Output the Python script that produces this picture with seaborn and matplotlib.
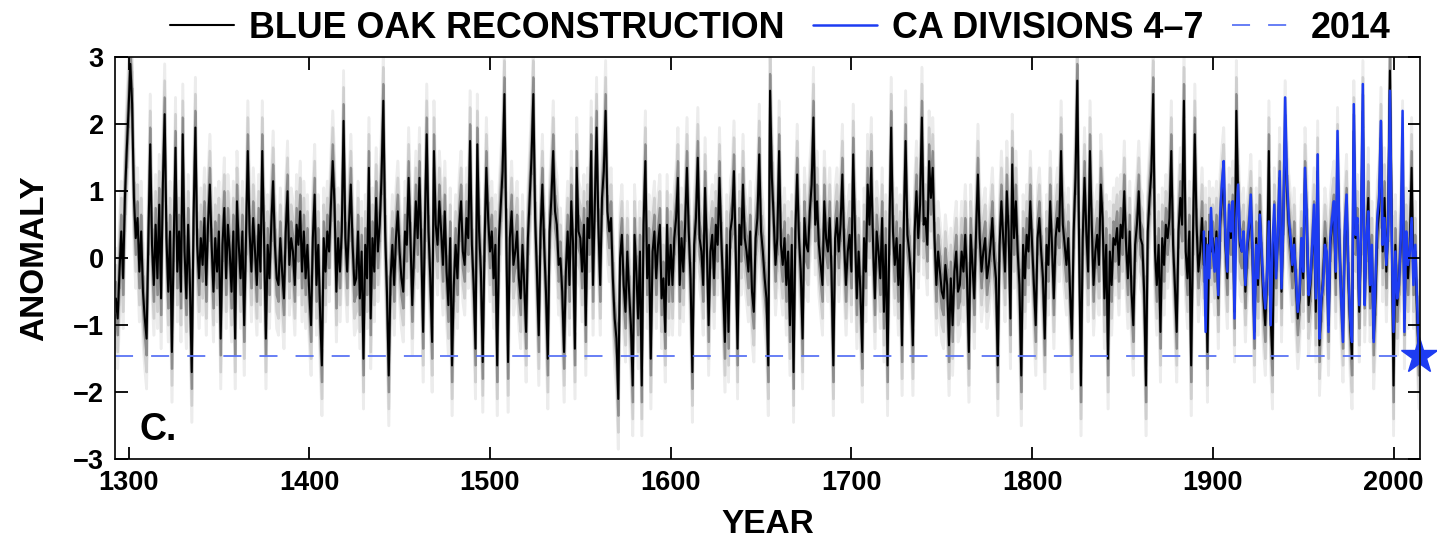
import numpy as np
import pandas as pd
import matplotlib
matplotlib.use("Agg")
import matplotlib.pyplot as plt
import seaborn as sns

# ---------------- data ----------------
oak_start_year = 1293
oak_anomaly = [
    -0.6, -0.9, -0.2, 0.4, -0.3, 0.9, 1.6,                      # 1293-1299
    2.2, 2.9, 2.3, 0.9, 0.3, 0.6, -0.2, 0.4, -0.5, -0.9,        # 1300
    -1.2, 0.3, 1.7, 0.2, -0.4, 0.5, -0.3, 0.8, -0.6, 1.1,       # 1310
    2.15, 0.3, -0.5, 0.4, -1.4, 0.2, 1.65, -0.2, 0.4, -0.5,     # 1320
    1.85, 0.1, -0.6, 0.5, -0.4, -1.7, 0.6, 1.95, 0.2, -0.3,     # 1330
    0.3, -0.1, 0.6, -0.4, 0.5, 1.1, 0.2, -0.5, 0.3, -0.2,       # 1340
    0.4, -1.2, 0.2, 0.75, -0.3, 0.5, 0.1, -0.5, 0.4, -1.2,      # 1350
    0.85, 0.2, -0.3, 0.4, -1.0, 0.3, 1.6, 0.4, -0.2, 0.6,       # 1360
    0.1, -0.4, 0.5, -0.2, 1.6, 0.3, -1.2, 0.2, -0.3, 0.5,       # 1370
    1.15, 0.2, -0.3, -0.4, 0.3, -0.2, -0.6, 0.4, 1.0, -0.1,     # 1380
    0.3, 0.1, -0.4, 0.5, 0.2, 0.7, -0.2, 0.4, -0.3, 0.2,        # 1390
    -0.5, -1.0, 0.3, 0.95, -0.4, 0.2, -0.8, -1.6, 0.3, -0.2,    # 1400
    0.4, 0.1, 0.8, 1.45, 0.8, -0.5, 0.3, -0.2, 0.4, 2.05,       # 1410
    0.3, -0.2, 0.5, 1.1, 0.2, -0.4, -0.3, 0.4, -0.6, 0.1,       # 1420
    -1.5, 0.2, -0.3, 1.35, -0.9, 0.3, -0.2, 0.9, 0.1, 0.5,      # 1430
    1.2, 2.35, 0.4, -0.5, -1.75, -0.3, 0.2, -0.4, 0.3, 0.7,     # 1440
    0.1, -0.3, -0.5, 0.4, 0.2, 1.2, 0.3, -0.7, 0.1, 0.85,       # 1450
    0.3, 1.2, 0.2, -1.1, 0.5, 1.85, 0.4, -0.3, -1.25, 1.6,      # 1460
    0.5, 0.2, 0.85, 0.4, -0.1, 0.7, -0.2, -0.7, 0.3, -1.6,      # 1470
    -0.4, 0.2, -0.3, 0.5, 0.85, 0.1, -0.1, 0.6, 0.3, 1.75,      # 1480
    0.2, -0.4, -1.35, 1.7, 0.4, -0.2, -1.55, 0.2, 1.35, 0.6,    # 1490
    0.1, 0.4, -0.3, 0.2, -1.6, 0.3, 0.8, 1.3, 2.45, 0.5,        # 1500
    -1.55, 0.3, 0.7, -0.1, 0.1, 0.4, -0.3, -0.6, 0.2, -0.4,     # 1510
    -1.1, 0.3, 0.9, 1.5, 2.45, 0.6, -0.2, -1.15, 0.4, 1.1,      # 1520
    0.2, -0.5, -1.5, 0.4, 0.9, 1.6, 0.7, 0.5, -0.1, 0.0,        # 1530
    -0.5, -1.4, -0.2, 0.4, -0.4, 0.85, 0.2, -1.35, 1.35, 0.4,   # 1540
    0.3, -0.2, 0.5, -1.0, 0.6, 0.3, 1.6, -0.4, 0.8, 1.95,       # 1550
    0.5, -0.4, 0.9, 1.3, 2.2, 0.7, 0.4, 0.6, -0.3, -0.9,        # 1560
    -1.2, -2.1, 0.0, 0.35, -0.4, -0.8, 0.1, -0.5, -1.0, -1.9,   # 1570
    0.35, -0.2, -0.9, 0.1, -1.9, 0.5, 1.45, -0.3, 0.2, -1.5,    # 1580
    0.1, 0.4, -0.3, 0.2, 0.5, -0.6, -0.3, -1.1, 0.5, -0.4,      # 1590
    0.2, -0.4, 0.3, 0.6, 1.2, -0.4, 0.3, -0.2, 0.5, 1.35,       # 1600
    0.4, -0.3, -1.7, 0.2, 0.6, 1.5, 0.3, 0.1, -0.4, 1.05,       # 1610
    0.2, -1.0, 0.1, 0.35, -0.3, 0.5, 0.2, 1.2, 0.3, -0.4,       # 1620
    -1.25, 0.2, -1.1, 0.4, 0.6, 1.3, 0.1, -1.35, 0.5, 0.2,      # 1630
    1.1, 0.3, 0.1, -0.2, 0.4, -0.5, -0.8, 0.3, 0.6, 1.55,       # 1640
    0.4, 0.1, -0.3, -0.6, -1.6, 2.5, 1.2, 0.6, -0.1, 0.3,       # 1650
    1.6, 0.2, -0.1, 0.3, -0.4, 0.1, -1.0, 0.2, -1.7, 0.4,       # 1660
    1.25, 0.3, -0.2, -1.2, 0.6, 0.2, 0.1, 0.7, 1.1, 2.1,        # 1670
    0.5, 0.85, 0.2, -0.1, -0.4, 0.85, 0.3, 0.1, 0.6, -0.2,      # 1680
    -1.6, 0.3, 0.6, 0.1, 0.5, 1.25, 0.2, -0.4, 0.1, 0.35,       # 1690
    -0.2, 1.55, 0.4, -0.6, 0.1, -0.5, -1.4, 0.3, -0.2, 1.1,     # 1700
    0.5, 1.35, 0.2, -0.6, 0.4, 0.1, -0.3, 0.6, -0.8, 0.2,       # 1710
    -1.6, 0.3, 1.95, 0.4, -0.1, 0.3, -0.4, 0.2, -1.3, 0.5,      # 1720
    1.75, 0.35, 0.1, -0.3, -1.3, 0.4, 1.0, 0.3, 0.8, 2.1,       # 1730
    0.5, 0.6, 0.2, 1.45, 0.9, 1.35, 0.3, -0.4, 0.1, -0.2,       # 1740
    -0.5, -0.6, -0.1, -0.4, -1.3, -0.3, -1.0, -0.2, 0.1, -0.5,  # 1750
    -0.4, 0.1, -0.2, 0.35, -0.3, -1.4, 0.35, -0.1, -0.6, 0.4,   # 1760
    1.25, 0.3, -0.2, 0.1, 0.3, -0.3, -0.1, 0.2, 0.6, 0.0,       # 1770
    -0.3, -1.6, 0.2, 0.85, 0.3, -0.2, 1.0, 0.4, -0.9, 1.4,      # 1780
    0.3, 0.85, 0.1, -0.4, -1.75, 0.2, -0.3, 0.35, 0.1, 0.85,    # 1790
    0.2, -0.4, -1.0, 0.3, 0.6, 0.1, -0.3, -1.2, 0.2, -0.1,      # 1800
    0.85, 0.2, -0.6, 0.3, 0.6, 0.4, 1.6, 0.5, 0.2, -0.1,        # 1810
    0.3, -0.5, -1.2, 0.4, 1.2, 2.65, 0.2, -1.9, 0.3, 1.2,       # 1820
    0.4, -0.2, 1.6, 0.5, -0.4, 0.1, 0.35, -0.1, 1.1, 0.6,       # 1830
    -0.6, 0.2, -1.5, 0.1, -0.4, 0.3, 0.2, 0.45, -0.1, 0.5,      # 1840
    0.3, 1.0, 0.2, -0.3, 0.4, -0.5, -1.0, 0.2, 0.5, 1.0,        # 1850
    0.3, 0.2, -0.5, -1.9, 0.4, 0.9, 1.3, 2.45, 0.1, -0.4,       # 1860
    0.2, -1.1, 0.3, -0.1, 0.5, 0.3, 0.6, 1.6, 0.2, -0.4,        # 1870
    -1.1, 0.4, 0.9, 0.5, 2.35, 0.1, -0.3, 0.4, -1.6, 0.3,       # 1880
    1.85, 0.5, -0.2, 0.1, 0.6, -0.1, 0.3, -1.4, 0.4, 0.1,       # 1890
    0.3, -0.1, 0.4, -0.6, 0.5, 0.9, 1.2, 0.2, -0.3, 0.6,        # 1900
    0.3, 0.7, -0.8, 2.2, 0.9, 0.2, 0.1, 0.3, -0.5, 0.1,         # 1910
    0.4, 0.8, 0.0, -1.1, 0.3, -0.4, 0.7, 0.0, -0.6, -1.0,       # 1920
    -0.3, 1.6, -0.9, -1.5, 0.6, -0.2, 0.3, 1.2, -0.5, 0.6,      # 1930
    1.9, 1.0, 0.5, 0.2, -0.2, 0.3, -0.4, -0.9, -0.6, 0.2,       # 1940
    -0.3, 1.2, 0.5, -0.7, -0.4, 0.1, 0.6, -0.8, 1.3, -1.3,      # 1950
    -0.7, -0.3, 0.3, 0.0, -1.0, 0.2, 0.5, 0.7, -0.3, 1.5,       # 1960
    0.2, -0.5, -1.1, 0.3, 0.8, -0.3, -1.0, -1.5, 1.9, 0.3,      # 1970
    0.5, -0.8, 0.3, 2.2, -0.5, 0.2, 0.9, -0.5, 0.1, -1.2,       # 1980
    -0.6, 0.4, 0.7, 1.8, 0.1, 0.9, -0.2, 0.5, 2.8, 0.4,         # 1990
    -1.9, 0.2, -0.7, -0.3, 0.2, 1.6, -0.9, 0.3, -0.3, 0.2,      # 2000
    1.35, -0.3, 0.1, -0.8, -1.5,                                # 2010-2014
]

ca_start_year = 1895
ca_anomaly = [
    0.4, -1.1, 0.2, -0.3, 0.75,                                 # 1895-1899
    0.1, -0.2, 0.3, -0.55, 0.6, 1.1, 1.45, 0.3, -0.2, 0.8,      # 1900
    0.4, 0.85, -0.9, 0.6, 1.1, 0.3, 0.1, 0.4, -0.4, 0.2,        # 1910
    0.5, 0.95, 0.1, -1.2, 0.2, -0.3, 0.65, 0.1, -0.4, -0.75,    # 1920
    -0.2, 0.55, -1.0, 0.2, 0.8, -0.3, 0.4, 1.3, -0.45, 0.5,     # 1930
    2.4, 1.2, 0.6, 0.3, -0.1, 0.2, -0.3, -0.8, -0.5, 0.3,       # 1940
    -0.2, 1.35, 0.6, -0.55, -0.3, 0.2, 0.8, -0.6, 1.55, -1.2,   # 1950
    -0.6, -0.4, 0.2, 0.1, -1.1, 0.3, 0.6, 0.85, -0.2, 1.9,      # 1960
    0.3, -0.6, -1.25, 0.4, 0.95, -0.2, -0.9, -1.25, 2.3, 0.35,  # 1970
    0.6, -0.7, 0.4, 2.6, -0.7, 0.3, 0.7, -0.4, 0.2, -1.25,      # 1980
    -0.3, 0.6, 0.9, 2.05, 0.2, 0.6, -0.1, 0.4, 2.5, 0.3,        # 1990
    -1.1, 0.1, -0.6, -0.4, 0.3, 2.2, -1.1, 0.4, -0.1, 0.1,      # 2000
    0.6, -0.4, 0.2, -0.6, -1.46,                                # 2010-2014
]

year_2014 = 2014
x_ticks = [1300, 1400, 1500, 1600, 1700, 1800, 1900, 2000]
y_ticks = [-3, -2, -1, 0, 1, 2, 3]
legend_labels = ["BLUE OAK RECONSTRUCTION", "CA DIVISIONS 4\u20137", "2014"]
panel_label = "C."

assert len(oak_anomaly) == 2014 - 1293 + 1, len(oak_anomaly)
assert len(ca_anomaly) == 2014 - 1895 + 1, len(ca_anomaly)

oak = pd.DataFrame({"year": np.arange(oak_start_year, oak_start_year + len(oak_anomaly)),
                    "anomaly": oak_anomaly})
ca = pd.DataFrame({"year": np.arange(ca_start_year, ca_start_year + len(ca_anomaly)),
                   "anomaly": ca_anomaly})
value_2014 = ca.loc[ca["year"] == year_2014, "anomaly"].iloc[0]

# ---------------- style ----------------
sns.set_theme(style="ticks")
plt.rcParams["font.family"] = ["Liberation Sans", "DejaVu Sans"]
plt.rcParams["font.weight"] = "bold"
plt.rcParams["axes.labelweight"] = "bold"
plt.rcParams["text.color"] = "black"
plt.rcParams["axes.labelcolor"] = "black"
plt.rcParams["xtick.color"] = "black"
plt.rcParams["ytick.color"] = "black"

BLUE = "#1d3cf2"
DASH_BLUE = "#5a74f5"
# spread of the uncertainty envelope (style: gray shading around the line)
spread_layers = [(0.75, "#ececec", 2.0), (0.5, "#cfcfcf", 1.8), (0.25, "#8c8c8c", 1.6)]

fig = plt.figure(figsize=(14.37, 5.5), dpi=100)
ax = fig.add_axes([0.080, 0.165, 0.908, 0.731])

z = 1
for off, col, lw in spread_layers:
    ax.fill_between(oak["year"], oak["anomaly"] - off, oak["anomaly"] + off,
                    color=col, lw=0, zorder=z, step="mid")
    ax.plot(oak["year"], oak["anomaly"] + off, color=col, lw=lw, zorder=z)
    ax.plot(oak["year"], oak["anomaly"] - off, color=col, lw=lw, zorder=z)
    z += 1
sns.lineplot(data=oak, x="year", y="anomaly", ax=ax, color="black", lw=1.5,
             label=legend_labels[0], zorder=5)
ax.axhline(value_2014, color=DASH_BLUE, lw=1.3, dashes=(10, 10),
           label=legend_labels[2], zorder=6)
sns.lineplot(data=ca, x="year", y="anomaly", ax=ax, color=BLUE, lw=1.8,
             label=legend_labels[1], zorder=7)
ax.plot([year_2014], [value_2014], marker="*", markersize=27, color=BLUE,
        markeredgecolor=BLUE, clip_on=False, zorder=8, linestyle="none")

ax.set_xlim(1292.5, 2014.5)
ax.set_ylim(-3, 3)
ax.set_xticks(x_ticks)
ax.set_yticks(y_ticks)
ax.tick_params(direction="in", length=9, width=1.3, top=True, right=True,
               labelsize=19.5, pad=8, colors="black")
ax.xaxis.set_zorder(12)
ax.yaxis.set_zorder(12)
for lab in ax.get_xticklabels() + ax.get_yticklabels():
    lab.set_fontweight("bold")
for s in ax.spines.values():
    s.set_linewidth(1.3)
    s.set_color("#111111")
    s.set_visible(True)
    s.set_zorder(10)

ax.set_xlabel("YEAR", fontsize=24, fontweight="bold", labelpad=9, color="black")
ax.set_ylabel("ANOMALY", fontsize=24, fontweight="bold", labelpad=16, color="black")
ax.text(1306, -2.57, panel_label, fontsize=27, fontweight="bold", color="black",
        ha="left", va="center", zorder=11)

leg = ax.get_legend()
if leg is not None:
    leg.remove()
h, l = ax.get_legend_handles_labels()
order = [l.index(t) for t in legend_labels]
fig_leg = fig.legend([h[i] for i in order], [l[i] for i in order], loc="center",
                     bbox_to_anchor=(0.543, 0.949), ncol=3, frameon=False,
                     prop={"size": 25.8, "weight": "bold"}, handlelength=1.8,
                     handletextpad=0.4, columnspacing=0.8)
for t in fig_leg.get_texts():
    t.set_color("black")

fig.savefig("out.png", dpi=100)
